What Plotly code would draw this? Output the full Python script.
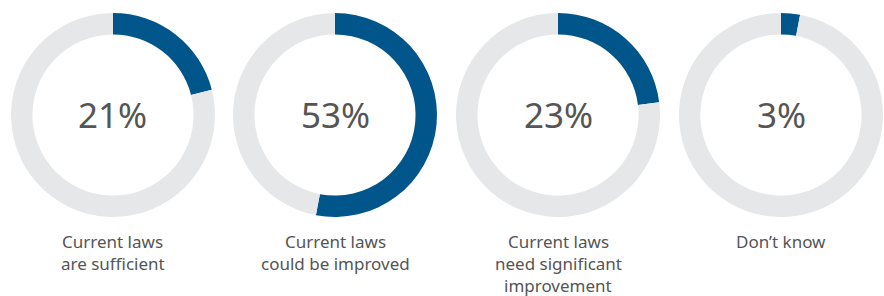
import plotly.graph_objects as go

categories = ["Current laws<br>are sufficient", "Current laws<br>could be improved",
              "Current laws<br>need significant<br>improvement", "Don’t know"]
percent_values = [21, 53, 23, 3]

W, H = 884, 296
centers_x = [113, 335, 558, 781]
center_y = 115
radius = 102
label_y0 = 241.5
label_dy = 22

BLUE = "#00558A"
GRAY = "#E6E7E8"
TEXT = "#555555"
FONT = "Noto Sans"

fig = go.Figure()
for i, (cat, v) in enumerate(zip(categories, percent_values)):
    cx = centers_x[i]
    x0, x1 = (cx - radius) / W, (cx + radius) / W
    y0, y1 = (H - center_y - radius) / H, (H - center_y + radius) / H
    fig.add_trace(go.Pie(
        values=[v, 100 - v],
        labels=["yes", "rest"],
        hole=0.79,
        sort=False,
        direction="clockwise",
        rotation=0,
        marker=dict(colors=[BLUE, GRAY], line=dict(width=0)),
        textinfo="none",
        hoverinfo="skip",
        showlegend=False,
        domain=dict(x=[x0, x1], y=[y0, y1]),
    ))
    fig.add_annotation(
        x=cx / W, y=(H - center_y) / H, xref="paper", yref="paper",
        text=f"{v}%", showarrow=False,
        font=dict(family=FONT, size=35, color=TEXT),
        xanchor="center", yanchor="middle",
    )
    for j, line in enumerate(cat.split("<br>")):
        fig.add_annotation(
            x=cx / W, y=(H - (label_y0 + j * label_dy)) / H, xref="paper", yref="paper",
            text=line, showarrow=False, borderpad=0,
            font=dict(family=FONT, size=17, color=TEXT),
            xanchor="center", yanchor="middle", align="center",
        )

fig.update_layout(
    width=W, height=H,
    margin=dict(l=0, r=0, t=0, b=0),
    paper_bgcolor="white", plot_bgcolor="white",
)
fig.write_html("out.html", config={"displayModeBar": False},
               post_script="document.body.style.margin='0';document.body.style.overflow='hidden';")
